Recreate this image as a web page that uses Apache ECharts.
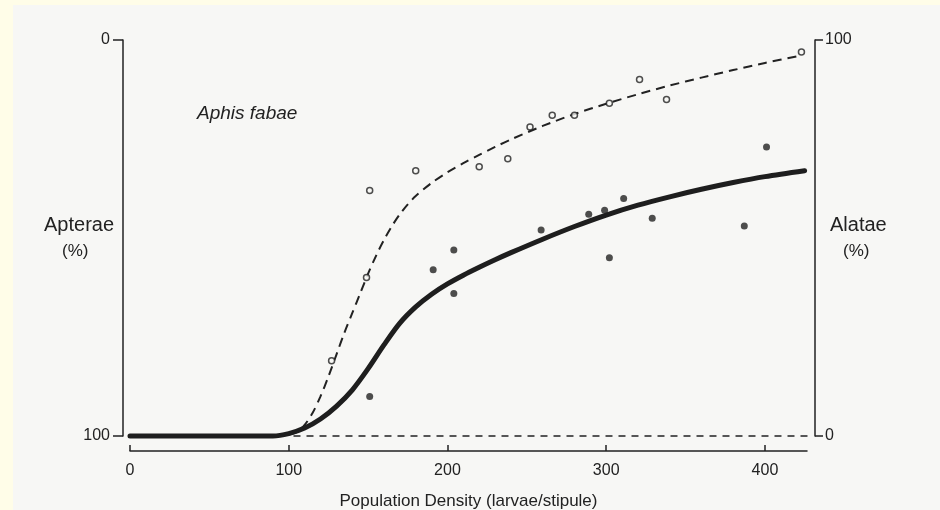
<!DOCTYPE html>
<html>
<head>
<meta charset="utf-8">
<style>
  html, body { margin: 0; padding: 0; background: #fffde8; }
  #chart { width: 940px; height: 510px; }
</style>
<script src="https://cdn.jsdelivr.net/npm/echarts@6/dist/echarts.min.js"></script>
</head>
<body>
<div id="chart"></div>
<script>
// Population density (larvae per stipule) against % alatae in Aphis fabae
const xTicks = [0, 100, 200, 300, 400];
const yTicks = [0, 100];

// open circles: observed points for the dashed curve
const openX = [127, 149, 151, 180, 220, 238, 252, 266, 280, 302, 321, 338, 423];
const openY = [19, 40, 62, 67, 68, 70, 78, 81, 81, 84, 90, 85, 97];

// filled dots: observed points for the solid curve
const filledX = [151, 191, 204, 204, 259, 289, 299, 302, 311, 329, 387, 401];
const filledY = [10, 42, 47, 36, 52, 56, 57, 45, 60, 55, 53, 73];

// fitted curves
const solidX = [0, 50, 90, 100, 110, 120, 130, 140, 150, 160, 170, 180, 190, 200, 210, 220, 230, 240, 260, 280, 300, 320, 340, 360, 380, 400, 425];
const solidY = [0, 0, 0, 0.6, 2, 4.3, 7.5, 11.6, 17, 23, 28.5, 32.6, 35.8, 38.4, 40.6, 42.6, 44.5, 46.3, 49.7, 52.9, 55.8, 58.3, 60.4, 62.3, 64, 65.5, 67];

const dashX = [100, 105, 110, 115, 120, 125, 130, 135, 140, 145, 150, 155, 160, 165, 170, 175, 180, 190, 200, 210, 220, 230, 240, 260, 280, 300, 320, 340, 360, 380, 400, 422];
const dashY = [0.4, 1, 2.8, 5.8, 10, 15, 20.5, 26, 31, 36, 41, 45.5, 49.5, 53, 56, 58.5, 60.6, 63.9, 66.6, 68.9, 71, 73, 74.9, 78.3, 81.3, 83.9, 86.3, 88.5, 90.5, 92.4, 94.2, 96];

// dashed zero line running to the right axis
const baseX = [103, 431.5];
const baseY = [0, 0];

const zip = (xs, ys) => xs.map((x, i) => [x, ys[i]]);

const ink = '#222';
const font = 'Liberation Sans, Arial, Helvetica, sans-serif';

const chart = echarts.init(document.getElementById('chart'), null, { renderer: 'canvas' });

chart.setOption({
  animation: false,
  backgroundColor: 'transparent',
  graphic: [
    { type: 'rect', z: -10, silent: true, shape: { x: 13, y: 5, width: 927, height: 505 }, style: { fill: '#f7f7f5' } },
    { type: 'text', left: 44, top: 215, style: { text: 'Apterae', font: '20px ' + font, fill: ink } },
    { type: 'text', left: 62, top: 243, style: { text: '(%)', font: '17px ' + font, fill: ink } },
    { type: 'text', left: 830, top: 215, style: { text: 'Alatae', font: '20px ' + font, fill: ink } },
    { type: 'text', left: 843, top: 243, style: { text: '(%)', font: '17px ' + font, fill: ink } },
    { type: 'text', left: 197, top: 104, style: { text: 'Aphis fabae', font: 'italic 19px ' + font, fill: ink } }
  ],
  grid: { left: 130, right: 133, top: 40, bottom: 74, containLabel: false, outerBoundsMode: 'none' },
  xAxis: {
    type: 'value',
    min: 0,
    max: 426.5,
    interval: 100,
    offset: 15,
    name: 'Population Density (larvae/stipule)',
    nameLocation: 'middle',
    nameGap: 42,
    nameTextStyle: { color: ink, fontSize: 17, fontFamily: font },
    axisLine: { show: true, onZero: false, lineStyle: { color: ink, width: 1.5 } },
    axisTick: { show: true, inside: true, length: 6, lineStyle: { color: ink, width: 1.5 }, customValues: xTicks },
    axisLabel: { color: ink, fontSize: 16, fontFamily: font, margin: 12, customValues: xTicks },
    splitLine: { show: false }
  },
  yAxis: [
    {
      type: 'value',
      position: 'left',
      inverse: true,
      min: 0,
      max: 100,
      interval: 100,
      offset: 7,
      axisLine: { show: true, onZero: false, lineStyle: { color: ink, width: 1.5 } },
      axisTick: { show: true, inside: false, length: 10, lineStyle: { color: ink, width: 1.5 }, customValues: yTicks },
      axisLabel: { color: ink, fontSize: 16, fontFamily: font, margin: 13, customValues: yTicks },
      splitLine: { show: false }
    },
    {
      type: 'value',
      position: 'right',
      min: 0,
      max: 100,
      interval: 100,
      offset: 8,
      axisLine: { show: true, onZero: false, lineStyle: { color: ink, width: 1.5 } },
      axisTick: { show: true, inside: false, length: 8, lineStyle: { color: ink, width: 1.5 }, customValues: yTicks },
      axisLabel: { color: ink, fontSize: 16, fontFamily: font, margin: 10, customValues: yTicks },
      splitLine: { show: false }
    }
  ],
  series: [
    {
      name: 'zero',
      type: 'line',
      yAxisIndex: 1,
      data: zip(baseX, baseY),
      showSymbol: false,
      clip: false,
      lineStyle: { color: ink, width: 1.5, type: [7, 6] },
      z: 1
    },
    {
      name: 'solid',
      type: 'line',
      yAxisIndex: 1,
      data: zip(solidX, solidY),
      smooth: 0.3,
      showSymbol: false,
      clip: false,
      lineStyle: { color: '#1e1e1e', width: 5, cap: 'round', join: 'round' },
      z: 3
    },
    {
      name: 'dashed',
      type: 'line',
      yAxisIndex: 1,
      data: zip(dashX, dashY),
      smooth: 0.3,
      showSymbol: false,
      clip: false,
      lineStyle: { color: ink, width: 2, type: [9, 6] },
      z: 2
    },
    {
      name: 'open',
      type: 'scatter',
      yAxisIndex: 1,
      data: zip(openX, openY),
      symbol: 'circle',
      symbolSize: 6,
      clip: false,
      itemStyle: { color: '#f7f7f5', borderColor: ink, borderWidth: 1.5 },
      z: 4
    },
    {
      name: 'filled',
      type: 'scatter',
      yAxisIndex: 1,
      data: zip(filledX, filledY),
      symbol: 'circle',
      symbolSize: 7,
      clip: false,
      itemStyle: { color: ink },
      z: 4
    }
  ]
});
</script>
</body>
</html>
